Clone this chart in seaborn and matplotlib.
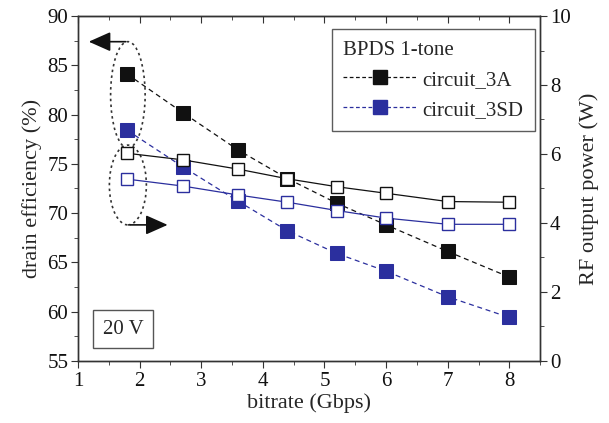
import numpy as np
import pandas as pd
import matplotlib.pyplot as plt
import seaborn as sns
from matplotlib.patches import Ellipse
from matplotlib.lines import Line2D
from matplotlib.ticker import MultipleLocator

# data
bitrate = [1.8, 2.7, 3.6, 4.4, 5.2, 6.0, 7.0, 8.0]
eff_3a = [84.1, 80.2, 76.4, 73.5, 71.0, 68.8, 66.1, 63.5]
eff_3sd = [78.4, 74.7, 71.2, 68.2, 65.9, 64.1, 61.5, 59.4]
pout_3a = [6.02, 5.83, 5.56, 5.28, 5.05, 4.86, 4.62, 4.60]
pout_3sd = [5.27, 5.07, 4.81, 4.60, 4.36, 4.14, 3.96, 3.96]

black = "#111111"
blue = "#2b2f9e"

sns.set_style("white")
plt.rcParams['font.family'] = ['Liberation Serif', 'DejaVu Serif']
plt.rcParams['font.size'] = 15

df = pd.DataFrame({"bitrate": bitrate, "eff_3a": eff_3a, "eff_3sd": eff_3sd,
                   "pout_3a": pout_3a, "pout_3sd": pout_3sd})

fig = plt.figure(figsize=(6.09, 4.23), dpi=100)
ax = fig.add_axes([0.128, 0.147, 0.759, 0.815])
ax2 = ax.twinx()

sns.lineplot(x="bitrate", y="eff_3a", data=df, ax=ax, color=black, linestyle=(0, (4, 3)),
             linewidth=0.9, marker="s", markersize=10, markerfacecolor=black,
             markeredgecolor=black)
sns.lineplot(x="bitrate", y="eff_3sd", data=df, ax=ax, color=blue, linestyle=(0, (4, 3)),
             linewidth=0.9, marker="s", markersize=10, markerfacecolor=blue,
             markeredgecolor=blue)
sns.lineplot(x="bitrate", y="pout_3a", data=df, ax=ax2, color=black, linewidth=0.9,
             marker="s", markersize=8, markerfacecolor="white", markeredgecolor=black,
             markeredgewidth=1.0)
sns.lineplot(x="bitrate", y="pout_3sd", data=df, ax=ax2, color=blue, linewidth=0.9,
             marker="s", markersize=8, markerfacecolor="white", markeredgecolor=blue,
             markeredgewidth=1.0)

ax.set_xlim(1, 8.5)
ax.set_ylim(55, 90)
ax2.set_ylim(0, 10)
ax.xaxis.set_major_locator(MultipleLocator(1))
ax.xaxis.set_minor_locator(MultipleLocator(0.5))
ax.yaxis.set_major_locator(MultipleLocator(5))
ax.yaxis.set_minor_locator(MultipleLocator(2.5))
ax2.yaxis.set_major_locator(MultipleLocator(2))
ax2.yaxis.set_minor_locator(MultipleLocator(1))

ax.set_xlabel("bitrate (Gbps)", fontsize=16, labelpad=2)
ax.set_ylabel("drain efficiency (%)", fontsize=16, labelpad=4)
ax2.set_ylabel("RF output power (W)", fontsize=16, labelpad=6)

for a in (ax, ax2):
    for s in a.spines.values():
        s.set_color("#333333")
        s.set_linewidth(1.0)
ax.tick_params(axis="x", which="both", direction="out", bottom=True, top=False,
               colors="#333333", labelcolor=black, labelsize=15, pad=3)
ax.tick_params(axis="y", which="both", direction="out", left=True, colors="#333333",
               labelcolor=black, labelsize=15, pad=2)
ax.tick_params(which="major", length=5)
ax.tick_params(which="minor", length=3)
ax2.tick_params(axis="y", which="both", direction="out", right=True, colors="#333333",
                labelcolor=black, labelsize=15, pad=2)
ax2.tick_params(which="major", length=5)
ax2.tick_params(which="minor", length=3)
# top ticks point inward
sec = ax.secondary_xaxis("top")
sec.xaxis.set_major_locator(MultipleLocator(1))
sec.xaxis.set_minor_locator(MultipleLocator(0.5))
sec.tick_params(which="both", direction="in", labeltop=False, colors="#333333")
sec.tick_params(which="major", length=5)
sec.tick_params(which="minor", length=3)

# dotted ellipses and arrows
ax.add_patch(Ellipse((1.81, 82.0), 0.56, 10.8, fill=False, linestyle=(0, (1.5, 2)),
                     edgecolor="#333333", linewidth=1.2))
ax.add_patch(Ellipse((1.81, 72.85), 0.6, 8.1, fill=False, linestyle=(0, (1.5, 2)),
                     edgecolor="#333333", linewidth=1.2))
ax.annotate("", xy=(1.13, 87.4), xytext=(1.82, 87.4),
            arrowprops=dict(arrowstyle="-|>,head_length=0.9,head_width=0.4",
                            color=black, lw=1.2))
ax.annotate("", xy=(2.5, 68.8), xytext=(1.80, 68.8),
            arrowprops=dict(arrowstyle="-|>,head_length=0.9,head_width=0.4",
                            color=black, lw=1.2))

ax.text(1.4, 58.2, "20 V", fontsize=15, va="center", ha="left",
        bbox=dict(boxstyle="square,pad=0.45", facecolor="white", edgecolor="#555555"))

handles = [
    Line2D([], [], color=black, linestyle=(0, (3, 2)), linewidth=0.9, marker="s",
           markersize=10, markerfacecolor=black, markeredgecolor=black),
    Line2D([], [], color=blue, linestyle=(0, (3, 2)), linewidth=0.9, marker="s",
           markersize=10, markerfacecolor=blue, markeredgecolor=blue),
]
leg = ax2.legend(handles, ["circuit_3A", "circuit_3SD"], title="BPDS 1-tone",
                 loc="upper right", bbox_to_anchor=(0.989, 0.962), borderaxespad=0,
                 frameon=True, fancybox=False, edgecolor="#333333", fontsize=15,
                 title_fontsize=15, handlelength=3.5, handletextpad=0.3,
                 borderpad=0.55, labelspacing=0.5)
leg._legend_box.align = "left"
leg.get_frame().set_linewidth(1.0)

fig.savefig("out.png", dpi=100)
